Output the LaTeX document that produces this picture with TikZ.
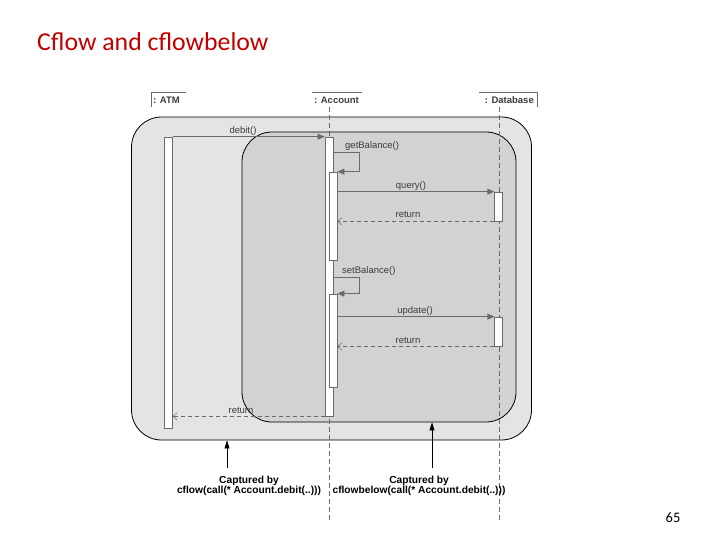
\documentclass[tikz,border=0pt]{standalone}
\usepackage{fontspec}
\setmainfont{Liberation Sans}
\newfontfamily\titlefont{Carlito}
\usetikzlibrary{arrows.meta}
\definecolor{titlered}{HTML}{C00000}
\definecolor{outerfill}{HTML}{E4E4E4}
\definecolor{innerfill}{HTML}{D2D2D2}
\definecolor{lncol}{HTML}{6A6A6A}
\definecolor{txtcol}{HTML}{3C3C3C}
\begin{document}
\begin{tikzpicture}[x=1pt,y=-1pt,
  region/.style={draw=black,line width=0.8pt,rounded corners=30pt,inner sep=0pt},
  bar/.style={draw=lncol,fill=white,line width=0.7pt,minimum width=7.5pt,inner sep=0pt},
  callline/.style={draw=lncol,line width=0.7pt,-{Triangle[length=7pt,width=6pt]}},
  retline/.style={draw=lncol,line width=0.6pt,dash pattern=on 4pt off 3pt,-{Straight Barb[length=4pt,width=7pt,line width=0.5pt]}},
  lifeline/.style={draw=lncol,line width=0.6pt,dash pattern=on 5pt off 3pt},
  lbl/.style={font=\fontsize{9.5}{11}\selectfont,text=txtcol,inner sep=0pt},
  head/.style={font=\fontsize{9.5}{11}\selectfont\bfseries,text=txtcol,inner sep=0pt},
  captext/.style={font=\fontsize{10.2}{10.5}\selectfont\bfseries,align=center,inner sep=0pt},
  uparrow/.style={draw=black,line width=0.8pt,-{Triangle[length=8pt,width=5pt]}}
]
\useasboundingbox (0,0) rectangle (720,540);

% title and page number
\node[anchor=base west,inner sep=0pt,text=titlered,font=\titlefont\fontsize{25.8}{30}\selectfont] (title) at (37,51) {Cflow and cflowbelow};
\node[inner sep=0pt,font=\titlefont\fontsize{14.5}{16}\selectfont,text=black] (page) at (673,518) {65};

% regions
\node[region,fill=outerfill,minimum width=400pt,minimum height=323pt] (outer) at (331.5,278.5) {};
\node[region,fill=innerfill,minimum width=274pt,minimum height=290pt] (inner) at (379,277) {};

% headers
\node[head,anchor=west] (hatm) at (153,100) {: ATM};
\node[head,anchor=west] (hacc) at (314,100) {: Account};
\node[head,anchor=east] (hdb) at (534,100) {: Database};
\draw[lncol,line width=0.6pt] (151,107) -- (151,92) -- (186,92);
\draw[lncol,line width=0.6pt] (312,92) -- (362,92);
\draw[lncol,line width=0.6pt] (479,92) -- (537,92) -- (537,107);

% lifelines
\coordinate (accTop) at (329,107);
\coordinate (accEnd) at (329,521);
\coordinate (dbTop) at (499,107);
\coordinate (dbEnd) at (499,521);
\draw[lifeline] (accTop) -- (accEnd);
\draw[lifeline] (dbTop) -- (dbEnd);

% activation bars
\node[bar,minimum height=291pt] (atm) at (168.5,282.5) {};
\node[bar,minimum height=279pt,minimum width=8pt] (acc) at (329,276.5) {};
\node[bar,minimum height=88pt,minimum width=8pt] (n1) at (333,216) {};
\node[bar,minimum height=93pt,minimum width=8pt] (n2) at (333,340.5) {};
\node[bar,minimum height=29pt] (d1) at (498.5,206.5) {};
\node[bar,minimum height=29pt] (d2) at (498.5,331.5) {};

% messages
\draw[callline] (atm.north east) -- (acc.north west);
\node[lbl] (ldebit) at (243,131) {debit()};

\draw[callline] (acc.east |- 0,152) -- ++(26,0) |- (n1.north east);
\node[lbl,anchor=west] (lgetb) at (345,146) {getBalance()};

\draw[callline] (n1.east |- d1.north) -- (d1.north west);
\node[lbl] (lquery) at (411,186) {query()};
\draw[retline] (d1.south west) -- (n1.east |- d1.south);
\node[lbl] (lret1) at (408,214) {return};

\draw[callline] (acc.east |- 0,277) -- ++(26,0) |- (n2.north east);
\node[lbl,anchor=west] (lsetb) at (342,271) {setBalance()};

\draw[callline] (n2.east |- d2.north) -- (d2.north west);
\node[lbl] (lupd) at (415,311) {update()};
\draw[retline] (d2.south west) -- (n2.east |- d2.south);
\node[lbl] (lret2) at (408,340) {return};

\draw[retline] (acc.south west) -- (atm.east |- acc.south);
\node[lbl] (lret3) at (241,410) {return};

% captions
\node[captext] (cap1) at (249,486) {Captured by\\cflow(call(* Account.debit(..)))};
\node[captext] (cap2) at (419,486) {Captured by\\cflowbelow(call(* Account.debit(..)))};
\coordinate (a1) at (227,468);
\coordinate (a2) at (432,468);
\draw[uparrow] (a1) -- (a1 |- outer.south);
\draw[uparrow] (a2) -- (a2 |- inner.south);
\end{tikzpicture}
\end{document}
